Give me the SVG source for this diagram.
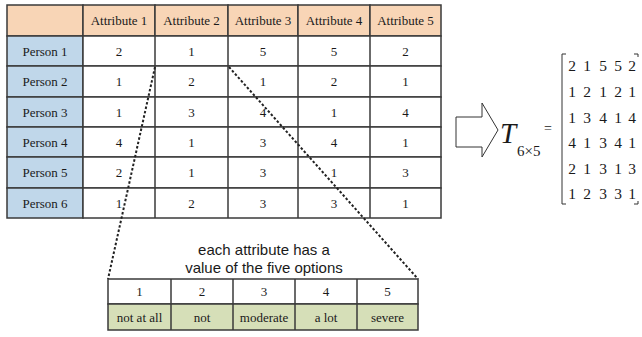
<svg xmlns="http://www.w3.org/2000/svg" width="642" height="337" viewBox="0 0 642 337">
<style>
.cell{stroke:#3a3a3a;stroke-width:1.5}
.hd{fill:#F8D5B6}
.pc{fill:#C0D7EA}
.wc{fill:#ffffff}
.gc{fill:#D6DFB8}
.t{font-family:"Liberation Serif","Times New Roman","DejaVu Serif",serif;font-size:13px;fill:#1a1a1a;text-anchor:middle}
.m{font-family:"Liberation Serif","Times New Roman","DejaVu Serif",serif;font-size:15.5px;fill:#1a1a1a;text-anchor:middle}
.ser{font-family:"Liberation Serif","Times New Roman","DejaVu Serif",serif;fill:#1a1a1a}
.cap{font-family:"Liberation Sans",Arial,sans-serif;font-size:15px;fill:#1a1a1a;text-anchor:middle}
.dot{stroke:#222;stroke-width:2;stroke-dasharray:2.5 2;fill:none}
</style>
<rect width="642" height="337" fill="#ffffff"/>

<g id="table">
  <g id="header">
    <rect class="cell hd" x="7" y="5" width="76" height="31"/>
    <rect class="cell hd" x="83" y="5" width="72" height="31"/>
    <rect class="cell hd" x="155" y="5" width="73" height="31"/>
    <rect class="cell hd" x="228" y="5" width="70" height="31"/>
    <rect class="cell hd" x="298" y="5" width="72" height="31"/>
    <rect class="cell hd" x="370" y="5" width="71" height="31"/>
    <text class="t" x="119" y="25">Attribute 1</text>
    <text class="t" x="191.5" y="25">Attribute 2</text>
    <text class="t" x="263" y="25">Attribute 3</text>
    <text class="t" x="334" y="25">Attribute 4</text>
    <text class="t" x="405.5" y="25">Attribute 5</text>
  </g>
  <g id="row1">
    <rect class="cell pc" x="7" y="36" width="76" height="30"/>
    <rect class="cell wc" x="83" y="36" width="358" height="30"/>
    <text class="t" x="45" y="55.5">Person 1</text>
    <text class="t" x="119" y="55.5">2</text>
    <text class="t" x="191.5" y="55.5">1</text>
    <text class="t" x="263" y="55.5">5</text>
    <text class="t" x="334" y="55.5">5</text>
    <text class="t" x="405.5" y="55.5">2</text>
  </g>
  <g id="row2">
    <rect class="cell pc" x="7" y="66" width="76" height="31"/>
    <rect class="cell wc" x="83" y="66" width="358" height="31"/>
    <text class="t" x="45" y="86">Person 2</text>
    <text class="t" x="119" y="86">1</text>
    <text class="t" x="191.5" y="86">2</text>
    <text class="t" x="263" y="86">1</text>
    <text class="t" x="334" y="86">2</text>
    <text class="t" x="405.5" y="86">1</text>
  </g>
  <g id="row3">
    <rect class="cell pc" x="7" y="97" width="76" height="30"/>
    <rect class="cell wc" x="83" y="97" width="358" height="30"/>
    <text class="t" x="45" y="116.5">Person 3</text>
    <text class="t" x="119" y="116.5">1</text>
    <text class="t" x="191.5" y="116.5">3</text>
    <text class="t" x="263" y="116.5">4</text>
    <text class="t" x="334" y="116.5">1</text>
    <text class="t" x="405.5" y="116.5">4</text>
  </g>
  <g id="row4">
    <rect class="cell pc" x="7" y="127" width="76" height="30"/>
    <rect class="cell wc" x="83" y="127" width="358" height="30"/>
    <text class="t" x="45" y="146.5">Person 4</text>
    <text class="t" x="119" y="146.5">4</text>
    <text class="t" x="191.5" y="146.5">1</text>
    <text class="t" x="263" y="146.5">3</text>
    <text class="t" x="334" y="146.5">4</text>
    <text class="t" x="405.5" y="146.5">1</text>
  </g>
  <g id="row5">
    <rect class="cell pc" x="7" y="157" width="76" height="31"/>
    <rect class="cell wc" x="83" y="157" width="358" height="31"/>
    <text class="t" x="45" y="177">Person 5</text>
    <text class="t" x="119" y="177">2</text>
    <text class="t" x="191.5" y="177">1</text>
    <text class="t" x="263" y="177">3</text>
    <text class="t" x="334" y="177">1</text>
    <text class="t" x="405.5" y="177">3</text>
  </g>
  <g id="row6">
    <rect class="cell pc" x="7" y="188" width="76" height="30"/>
    <rect class="cell wc" x="83" y="188" width="358" height="30"/>
    <text class="t" x="45" y="207.5">Person 6</text>
    <text class="t" x="119" y="207.5">1</text>
    <text class="t" x="191.5" y="207.5">2</text>
    <text class="t" x="263" y="207.5">3</text>
    <text class="t" x="334" y="207.5">3</text>
    <text class="t" x="405.5" y="207.5">1</text>
  </g>
  <g id="colLines" class="cell">
    <line x1="155" y1="36" x2="155" y2="218"/>
    <line x1="228" y1="36" x2="228" y2="218"/>
    <line x1="298" y1="36" x2="298" y2="218"/>
    <line x1="370" y1="36" x2="370" y2="218"/>
  </g>
</g>

<g id="connectors">
  <line class="dot" x1="155" y1="67" x2="108" y2="279"/>
  <line class="dot" x1="229" y1="67" x2="418" y2="279"/>
</g>

<g id="caption">
  <text class="cap" x="264" y="255">each attribute has a</text>
  <text class="cap" x="264" y="273">value of the five options</text>
</g>

<g id="options">
  <rect class="cell wc" x="108" y="279" width="310" height="25"/>
  <rect class="cell gc" x="108" y="304" width="310" height="26"/>
  <g class="cell">
    <line x1="171" y1="279" x2="171" y2="330"/>
    <line x1="233" y1="279" x2="233" y2="330"/>
    <line x1="295" y1="279" x2="295" y2="330"/>
    <line x1="357" y1="279" x2="357" y2="330"/>
  </g>
  <text class="t" x="139.5" y="296">1</text>
  <text class="t" x="202" y="296">2</text>
  <text class="t" x="264" y="296">3</text>
  <text class="t" x="326" y="296">4</text>
  <text class="t" x="387.5" y="296">5</text>
  <text class="t" x="139.5" y="321.5">not at all</text>
  <text class="t" x="202" y="321.5">not</text>
  <text class="t" x="264" y="321.5">moderate</text>
  <text class="t" x="326" y="321.5">a lot</text>
  <text class="t" x="387.5" y="321.5">severe</text>
</g>

<g id="arrow">
  <polygon points="456,117 482,117 482,103 498,130 482,157 482,147 456,147" fill="#ffffff" stroke="#333" stroke-width="1"/>
</g>

<g id="matrix">
  <text class="ser" x="500" y="143" font-style="italic" font-size="29">T</text>
  <text class="ser" x="517" y="156" font-size="15">6×5</text>
  <text class="ser" x="548" y="133" font-size="14" text-anchor="middle">=</text>
  <path d="M566,54 H562 V204 H566" fill="none" stroke="#333" stroke-width="1"/>
  <path d="M634,54 H638 V57 M638,201 V204 H634" fill="none" stroke="#333" stroke-width="1"/>
  <g class="m">
    <text y="71"><tspan x="572">2</tspan><tspan x="587">1</tspan><tspan x="603">5</tspan><tspan x="618">5</tspan><tspan x="632">2</tspan></text>
    <text y="97"><tspan x="572">1</tspan><tspan x="587">2</tspan><tspan x="603">1</tspan><tspan x="618">2</tspan><tspan x="632">1</tspan></text>
    <text y="123"><tspan x="572">1</tspan><tspan x="587">3</tspan><tspan x="603">4</tspan><tspan x="618">1</tspan><tspan x="632">4</tspan></text>
    <text y="148"><tspan x="572">4</tspan><tspan x="587">1</tspan><tspan x="603">3</tspan><tspan x="618">4</tspan><tspan x="632">1</tspan></text>
    <text y="174"><tspan x="572">2</tspan><tspan x="587">1</tspan><tspan x="603">3</tspan><tspan x="618">1</tspan><tspan x="632">3</tspan></text>
    <text y="199"><tspan x="572">1</tspan><tspan x="587">2</tspan><tspan x="603">3</tspan><tspan x="618">3</tspan><tspan x="632">1</tspan></text>
  </g>
</g>
</svg>
